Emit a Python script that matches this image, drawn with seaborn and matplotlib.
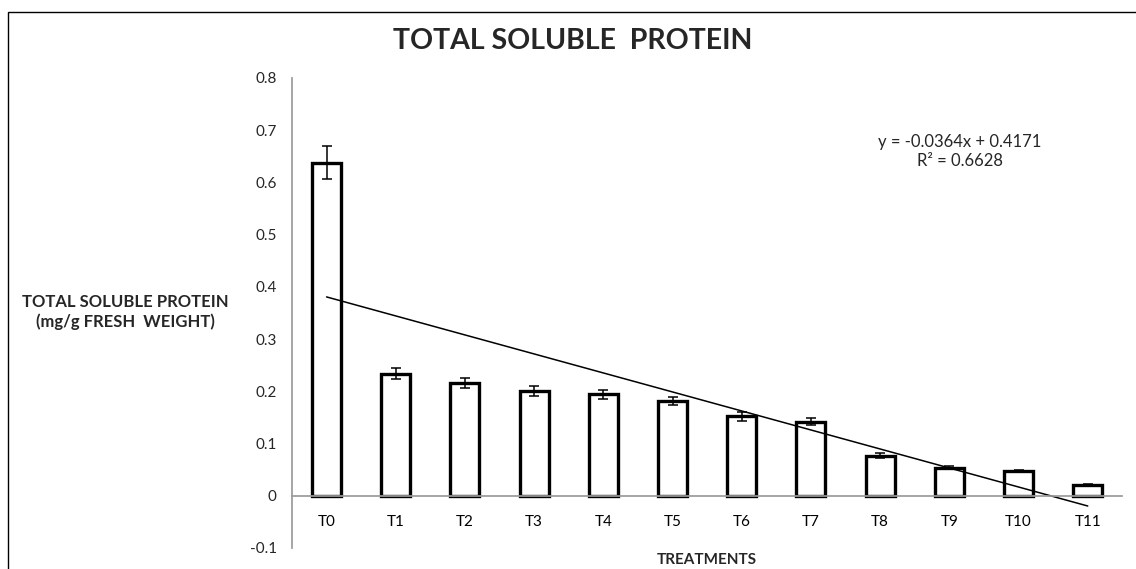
import numpy as np
import pandas as pd
import matplotlib
matplotlib.use("Agg")
import matplotlib.pyplot as plt
import seaborn as sns

categories = ["T0", "T1", "T2", "T3", "T4", "T5", "T6", "T7", "T8", "T9", "T10", "T11"]
protein = [0.638, 0.234, 0.216, 0.201, 0.194, 0.182, 0.152, 0.142, 0.077, 0.054, 0.047, 0.021]
errors = [0.032, 0.011, 0.010, 0.010, 0.009, 0.008, 0.008, 0.006, 0.004, 0.002, 0.002, 0.002]
trend_slope = -0.0364
trend_intercept = 0.4171
trend_label = "y = -0.0364x + 0.4171\nR² = 0.6628"
y_ticks = [-0.1, 0, 0.1, 0.2, 0.3, 0.4, 0.5, 0.6, 0.7, 0.8]

sns.set_theme(style="white")
plt.rcParams['font.family'] = ['Lato', 'DejaVu Sans']

df = pd.DataFrame({"treatment": categories, "protein": protein})

fig = plt.figure(figsize=(11.36, 5.69), dpi=100)
ax = fig.add_axes([0.257, 0.037, 0.731, 0.826])

sns.barplot(data=df, x="treatment", y="protein", ax=ax, color="white",
            edgecolor="black", linewidth=2.4, width=0.42, errorbar=None)
pos = np.arange(len(categories))
ax.errorbar(pos, protein, yerr=errors, fmt="none", ecolor="black",
            elinewidth=1.1, capsize=3.5, capthick=1.1)

trend_x = np.array([pos[0], pos[-1]])
trend_y = trend_slope * (trend_x + 1) + trend_intercept
ax.plot(trend_x, trend_y, color="black", linewidth=1.1)

ax.set_ylim(-0.1, 0.8)
ax.set_xlim(-0.5, len(categories) - 0.5)
ax.set_yticks(y_ticks)
ax.set_yticklabels(["-0.1", "0", "0.1", "0.2", "0.3", "0.4", "0.5", "0.6", "0.7", "0.8"])

for s in ["top", "right"]:
    ax.spines[s].set_visible(False)
ax.spines["left"].set_color("#9a9a9a")
ax.spines["bottom"].set_color("#9a9a9a")
ax.spines["bottom"].set_position(("data", 0))
ax.spines["left"].set_bounds(-0.1, 0.8)

ax.set_xticks(pos)
ax.set_xticks(np.arange(-0.5, len(categories), 1.0), minor=True)
ax.tick_params(axis="x", which="major", length=0, pad=14, labelsize=11, colors="black")
ax.tick_params(axis="x", which="minor", length=5, color="#9a9a9a", direction="out", width=1)
ax.tick_params(axis="y", length=5, color="#9a9a9a", direction="out", labelsize=11, width=1, pad=6)

ax.set_xlabel("")
ax.set_ylabel("")
fig.text(0.6225, 0.004, "TREATMENTS", ha="center", va="bottom", fontsize=11, fontweight="bold")
fig.text(0.110, 0.452, "TOTAL SOLUBLE PROTEIN\n(mg/g FRESH  WEIGHT)", ha="center", va="center",
         fontsize=12, fontweight="bold", linespacing=1.25)
fig.text(0.504, 0.928, "TOTAL SOLUBLE  PROTEIN", ha="center", va="center", fontsize=20.5, fontweight="bold")
ax.text(9.15, 0.692, trend_label, ha="center", va="top", fontsize=12, linespacing=1.2)

border = plt.Rectangle((0.007, -0.1), 1.2, 1.079, transform=fig.transFigure, fill=False,
                       edgecolor="black", linewidth=1.0)
fig.patches.append(border)

fig.savefig("out.png", dpi=100)
